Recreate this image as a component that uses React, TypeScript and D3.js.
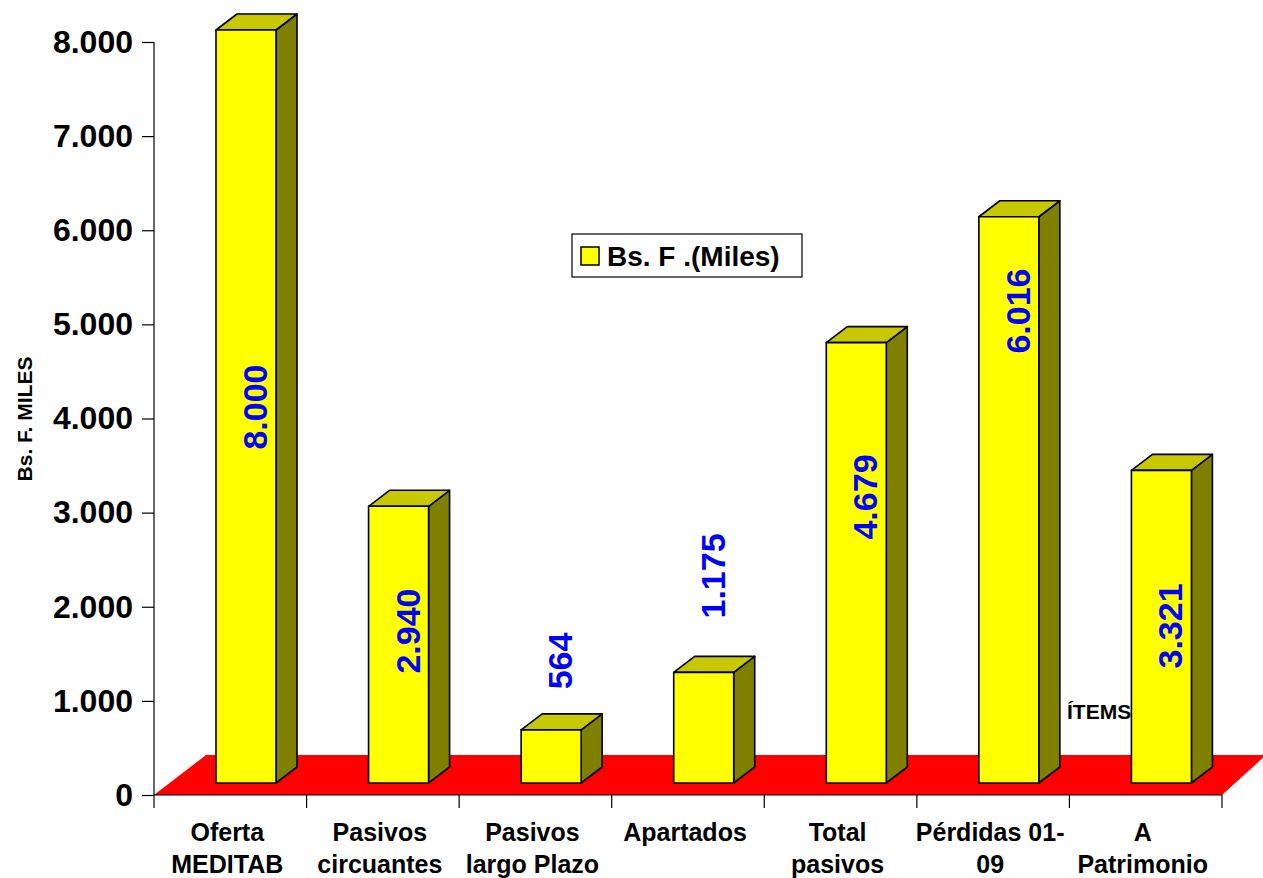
import React, { useEffect, useRef } from 'react';
import * as d3 from 'd3';

// categories (two-line labels) and values, Bs. F (miles)
const categories = ['Oferta MEDITAB', 'Pasivos circuantes', 'Pasivos largo Plazo', 'Apartados', 'Total pasivos', 'Pérdidas 01-09', 'A Patrimonio'];
const categoryLines = [['Oferta', 'MEDITAB'], ['Pasivos', 'circuantes'], ['Pasivos', 'largo Plazo'], ['Apartados'], ['Total', 'pasivos'], ['Pérdidas 01-', '09'], ['A', 'Patrimonio']];
const values = [8000, 2940, 564, 1175, 4679, 6016, 3321];
// where Excel put each rotated value label (in axis units)
const labelAt = [4122, 1742, 1424, 2327, 3166, 5142, 1796];
const yTicks = [0, 1000, 2000, 3000, 4000, 5000, 6000, 7000, 8000];

const seriesName = 'Bs. F .(Miles)';
const yTitle = 'Bs. F. MILES';
const xTitle = 'ÍTEMS';

const FONT = '"Liberation Sans", Arial, Helvetica, sans-serif';

export default function App() {
  const svgRef = useRef<SVGSVGElement>(null);

  useEffect(() => {
    if (!svgRef.current) return;
    const svg = d3.select(svgRef.current);
    svg.selectAll('*').remove();

    const x = d3.scaleBand<string>().domain(categories).range([154, 1222]).padding(0);
    const y = d3.scaleLinear().domain([0, 8000]).range([795, 42]);
    const fmt = d3.formatLocale({ decimal: ',', thousands: '.', grouping: [3], currency: ['', ''] }).format(',d');

    // 3D depth settings
    const floorDx = 52, floorDy = 40, floorDxRight = 44;
    const barOffset = 62, barW = 60, barDx = 21, barDy = 16, barLift = 12;

    const y0 = y(0);
    const [xl, xr] = x.range();

    // red floor
    svg.append('polygon')
      .attr('points', [[xl, y0], [xl + floorDx, y0 - floorDy], [xr + floorDxRight, y0 - floorDy], [xr, y0]].map(p => p.join(',')).join(' '))
      .attr('fill', '#ff0000');

    // y axis
    const yAxis = svg.append('g')
      .attr('transform', `translate(${xl},0)`)
      .call(d3.axisLeft(y).tickValues(yTicks).tickSize(12).tickSizeOuter(0).tickPadding(9).tickFormat(d => fmt(d as number)));
    yAxis.select('.domain').remove();
    yAxis.selectAll('line').attr('stroke', '#000').attr('stroke-width', 1.2);
    yAxis.selectAll('text')
      .attr('fill', '#000')
      .style('font-family', FONT)
      .style('font-size', '32px')
      .style('font-weight', 'bold');

    svg.append('line')
      .attr('x1', xl).attr('x2', xl)
      .attr('y1', y(8000)).attr('y2', y0 + 13)
      .attr('stroke', '#000').attr('stroke-width', 1.2);

    // x axis line and ticks
    svg.append('line')
      .attr('x1', xl).attr('x2', xr)
      .attr('y1', y0).attr('y2', y0)
      .attr('stroke', '#000').attr('stroke-width', 1.2);
    const bounds = categories.map(c => x(c) as number).concat([xr]);
    svg.selectAll('.xtick')
      .data(bounds.slice(1))
      .enter()
      .append('line')
      .attr('class', 'xtick')
      .attr('x1', d => d).attr('x2', d => d)
      .attr('y1', y0).attr('y2', y0 + 13)
      .attr('stroke', '#000').attr('stroke-width', 1.2);

    // bars
    const bars = svg.append('g')
      .attr('stroke', '#000')
      .attr('stroke-width', 1.6)
      .attr('stroke-linejoin', 'round');
    values.forEach((v, i) => {
      const x0 = (x(categories[i]) as number) + barOffset;
      const x1 = x0 + barW;
      const top = y(v) - barLift;
      const bot = y0 - barLift;
      const pts = (arr: number[][]) => arr.map(p => p.join(',')).join(' ');
      bars.append('polygon')
        .attr('points', pts([[x1, top], [x1 + barDx, top - barDy], [x1 + barDx, bot - barDy], [x1, bot]]))
        .attr('fill', '#808000');
      bars.append('polygon')
        .attr('points', pts([[x0, top], [x0 + barDx, top - barDy], [x1 + barDx, top - barDy], [x1, top]]))
        .attr('fill', '#c8c800');
      bars.append('rect')
        .attr('x', x0).attr('y', top)
        .attr('width', barW).attr('height', bot - top)
        .attr('fill', '#ffff00');
    });

    // value labels, rotated
    svg.selectAll('.vlabel')
      .data(values)
      .enter()
      .append('text')
      .attr('class', 'vlabel')
      .attr('transform', (d, i) => `translate(${(x(categories[i]) as number) + barOffset + barW / 2 + 9},${y(labelAt[i])}) rotate(-90)`)
      .attr('text-anchor', 'middle')
      .attr('dominant-baseline', 'central')
      .attr('fill', '#0000ff')
      .style('font-family', FONT)
      .style('font-size', '34px')
      .style('font-weight', 'bold')
      .text(d => fmt(d));

    // category labels
    categoryLines.forEach((lines, i) => {
      const cx = (x(categories[i]) as number) + x.bandwidth() / 2 - 3;
      const t = svg.append('text')
        .attr('x', cx)
        .attr('y', 841)
        .attr('text-anchor', 'middle')
        .attr('fill', '#000')
        .style('font-family', FONT)
        .style('font-size', '25px')
        .style('font-weight', 'bold');
      lines.forEach((l, j) => {
        t.append('tspan')
          .attr('x', cx)
          .attr('dy', j === 0 ? 0 : 32)
          .text(l);
      });
    });

    // axis titles
    svg.append('text')
      .attr('transform', 'translate(24,419) rotate(-90)')
      .attr('text-anchor', 'middle')
      .attr('dominant-baseline', 'central')
      .attr('fill', '#000')
      .style('font-family', FONT)
      .style('font-size', '21px')
      .style('font-weight', 'bold')
      .text(yTitle);

    svg.append('text')
      .attr('x', 1067)
      .attr('y', 719)
      .attr('fill', '#000')
      .style('font-family', FONT)
      .style('font-size', '21px')
      .style('font-weight', 'bold')
      .text(xTitle);

    // legend
    const legend = svg.append('g');
    legend.append('rect')
      .attr('x', 572).attr('y', 234)
      .attr('width', 230).attr('height', 43)
      .attr('fill', '#fff')
      .attr('stroke', '#000')
      .attr('stroke-width', 1.2);
    legend.append('rect')
      .attr('x', 581).attr('y', 247)
      .attr('width', 18).attr('height', 18)
      .attr('fill', '#ffff00')
      .attr('stroke', '#000')
      .attr('stroke-width', 1.5);
    legend.append('text')
      .attr('x', 607)
      .attr('y', 266)
      .attr('fill', '#000')
      .style('font-family', FONT)
      .style('font-size', '28px')
      .style('font-weight', 'bold')
      .text(seriesName);
  }, []);

  return (
    <svg
      ref={svgRef}
      width={1263}
      height={878}
      style={{ position: 'absolute', left: 0, top: 0, background: '#fff' }}
    />
  );
}
